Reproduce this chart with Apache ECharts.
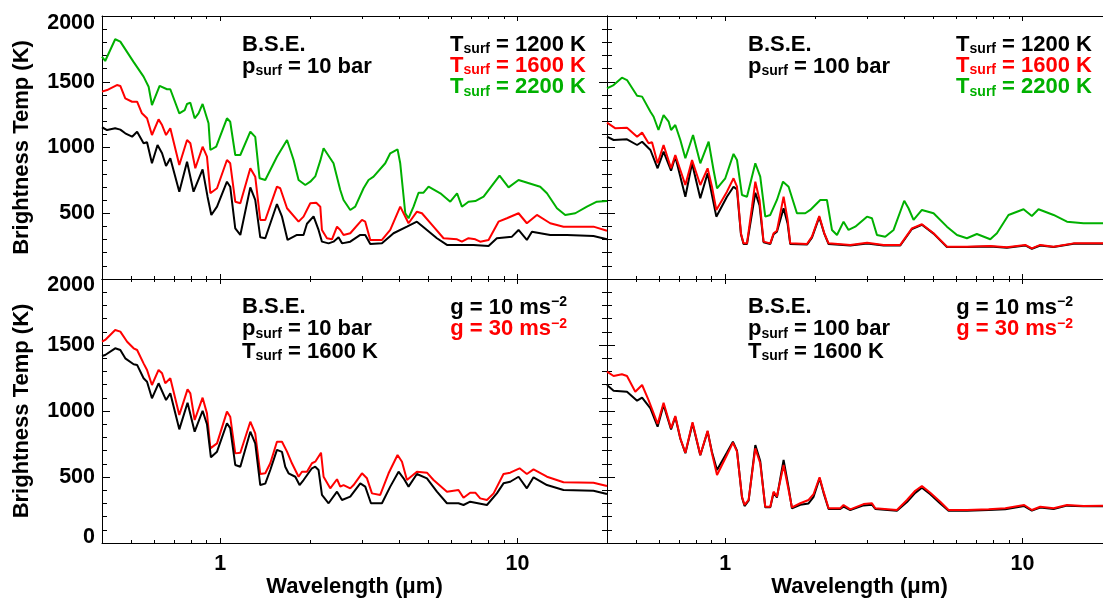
<!DOCTYPE html>
<html>
<head>
<meta charset="utf-8">
<title>Brightness temperature spectra</title>
<script src="https://cdn.jsdelivr.net/npm/echarts@6/dist/echarts.min.js"></script>
<style>
  html, body { margin: 0; padding: 0; background: #fff; }
  #chart { width: 1103px; height: 603px; }
</style>
</head>
<body>
<div id="chart"></div>
<script>
// wavelength (um), brightness temperature (K)
// top left: B.S.E., p_surf = 10 bar
const p10T1200 = [[0.40,1154],[0.416,1133],[0.443,1146],[0.461,1136],[0.479,1108],[0.505,1082],[0.525,1120],[0.552,1032],[0.567,1040],[0.589,880],[0.615,1019],[0.637,956],[0.657,859],[0.679,918],[0.728,664],[0.773,892],[0.813,664],[0.872,834],[0.906,626],[0.933,487],[0.975,550],[1.053,740],[1.08,702],[1.123,385],[1.168,335],[1.262,697],[1.311,601],[1.363,317],[1.417,310],[1.551,570],[1.613,474],[1.684,297],[1.811,335],[1.906,335],[1.957,420],[2.06,476],[2.141,373],[2.198,284],[2.314,271],[2.404,284],[2.5,317],[2.567,271],[2.737,284],[2.958,335],[3.074,335],[3.196,266],[3.499,271],[3.827,348],[4.246,398],[4.587,436],[4.957,373],[5.356,310],[5.788,259],[6.42,259],[7.11,259],[7.99,251],[8.52,310],[9.58,322],[10.08,373],[10.75,297],[11.18,360],[12.88,335],[14.66,335],[18.01,327],[20,302]];
const p10T1600 = [[0.40,1425],[0.416,1437],[0.449,1475],[0.461,1468],[0.479,1374],[0.505,1348],[0.525,1348],[0.545,1260],[0.567,1222],[0.589,1095],[0.62,1214],[0.637,1171],[0.657,1095],[0.679,1146],[0.728,867],[0.773,1057],[0.793,1032],[0.824,842],[0.872,1006],[0.902,930],[0.926,652],[0.975,690],[1.053,905],[1.08,880],[1.123,588],[1.168,576],[1.262,842],[1.311,778],[1.363,449],[1.417,449],[1.551,702],[1.591,690],[1.677,538],[1.834,436],[1.906,474],[2.008,576],[2.103,580],[2.17,550],[2.198,373],[2.285,310],[2.376,302],[2.47,398],[2.533,373],[2.598,335],[2.737,348],[2.997,449],[3.074,436],[3.196,297],[3.499,297],[3.731,373],[4.031,550],[4.299,424],[4.587,512],[4.768,500],[5.217,398],[5.638,310],[6.26,302],[6.5,284],[6.84,310],[7.21,302],[7.49,284],[7.99,297],[8.63,436],[9.21,462],[10.08,500],[10.75,424],[11.62,487],[12.88,424],[14.28,398],[18.01,398],[20,367]];
const p10T2200 = [[0.40,1690],[0.41,1658],[0.443,1823],[0.461,1805],[0.51,1653],[0.552,1539],[0.574,1462],[0.589,1323],[0.625,1468],[0.662,1443],[0.679,1443],[0.728,1260],[0.759,1285],[0.773,1331],[0.793,1341],[0.82,1222],[0.845,1260],[0.872,1331],[0.913,1184],[0.926,981],[0.969,1006],[1.053,1222],[1.08,1196],[1.123,943],[1.168,943],[1.262,1120],[1.311,1081],[1.356,766],[1.417,753],[1.551,930],[1.677,1057],[1.765,905],[1.834,753],[1.932,715],[2.008,740],[2.087,780],[2.17,900],[2.226,994],[2.404,880],[2.533,677],[2.598,601],[2.737,525],[2.845,550],[3.034,690],[3.154,753],[3.279,778],[3.589,880],[3.731,956],[3.948,986],[4.031,880],[4.192,500],[4.299,462],[4.469,550],[4.645,656],[4.829,656],[5.02,702],[5.5,652],[5.94,588],[6.26,652],[6.5,550],[6.84,588],[7.21,593],[7.69,626],[8.7,786],[9.33,697],[10.08,753],[11.92,702],[12.56,652],[13.57,538],[14.47,487],[15.64,500],[17.12,550],[18.49,588],[20,593]];

// top right: B.S.E., p_surf = 100 bar
const p100T1200 = [[0.40,1082],[0.421,1057],[0.467,1062],[0.505,1019],[0.525,1044],[0.56,981],[0.592,842],[0.62,968],[0.657,824],[0.679,930],[0.706,778],[0.734,626],[0.773,880],[0.824,614],[0.872,804],[0.933,474],[1.013,626],[1.066,702],[1.095,680],[1.129,340],[1.152,266],[1.183,266],[1.23,500],[1.262,656],[1.304,560],[1.345,280],[1.417,266],[1.454,340],[1.492,360],[1.571,538],[1.621,420],[1.654,266],[1.883,262],[1.957,315],[2.071,470],[2.153,345],[2.226,266],[2.633,255],[3.0,270],[3.408,255],[3.879,255],[4.246,380],[4.587,412],[5.02,345],[5.568,243],[6.5,243],[7.79,248],[8.86,238],[10.21,255],[10.75,230],[11.47,255],[12.72,243],[14.85,268],[20,268]];
const p100T1600 = [[0.40,1189],[0.427,1146],[0.467,1151],[0.505,1082],[0.525,1113],[0.552,1032],[0.567,1040],[0.592,880],[0.62,1019],[0.657,842],[0.679,943],[0.706,829],[0.734,715],[0.773,905],[0.824,715],[0.872,842],[0.902,702],[0.933,525],[1.013,664],[1.066,766],[1.095,702],[1.129,348],[1.152,271],[1.183,271],[1.23,550],[1.262,740],[1.304,601],[1.345,284],[1.417,271],[1.454,348],[1.492,367],[1.571,626],[1.621,449],[1.654,271],[1.883,266],[1.957,322],[2.071,479],[2.153,348],[2.226,271],[2.633,259],[3.0,276],[3.408,259],[3.879,259],[4.246,385],[4.587,416],[5.02,348],[5.568,246],[6.5,246],[7.79,251],[8.86,241],[10.21,259],[10.75,233],[11.47,259],[12.72,246],[14.85,271],[20,271]];
const p100T2200 = [[0.40,1450],[0.421,1475],[0.449,1531],[0.467,1513],[0.505,1394],[0.525,1387],[0.56,1272],[0.574,1234],[0.596,1133],[0.62,1247],[0.645,1196],[0.657,1133],[0.679,1171],[0.706,1057],[0.734,918],[0.779,1095],[0.824,880],[0.879,1044],[0.913,829],[0.938,690],[1.0,766],[1.066,951],[1.095,905],[1.138,639],[1.183,626],[1.262,880],[1.311,778],[1.363,474],[1.417,487],[1.492,601],[1.564,740],[1.633,702],[1.742,500],[1.858,500],[1.932,525],[2.087,601],[2.198,601],[2.285,373],[2.376,335],[2.5,436],[2.598,373],[2.737,398],[2.997,474],[3.115,462],[3.238,335],[3.452,322],[3.683,373],[4.0,595],[4.135,538],[4.299,449],[4.587,525],[5.02,500],[5.568,398],[6.02,335],[6.5,310],[7.02,342],[7.79,302],[8.2,348],[8.97,487],[10.08,530],[10.75,479],[11.32,530],[12.72,487],[14.11,436],[16.04,424],[20,424]];

// bottom left: p_surf = 10 bar, T_surf = 1600 K
const p10G10 = [[0.40,1417],[0.41,1424],[0.443,1475],[0.461,1462],[0.479,1399],[0.511,1354],[0.525,1349],[0.552,1248],[0.567,1222],[0.589,1096],[0.62,1210],[0.657,1083],[0.679,1134],[0.728,861],[0.776,1063],[0.82,843],[0.872,1002],[0.902,900],[0.93,649],[0.975,692],[1.053,907],[1.08,870],[1.123,591],[1.168,578],[1.262,843],[1.311,755],[1.363,439],[1.417,450],[1.473,553],[1.551,705],[1.613,690],[1.654,578],[1.697,528],[1.788,502],[1.848,439],[1.906,477],[2.034,566],[2.087,578],[2.141,553],[2.198,364],[2.314,301],[2.47,389],[2.567,326],[2.737,351],[2.958,452],[3.074,427],[3.213,301],[3.499,301],[3.731,427],[3.979,540],[4.136,490],[4.299,427],[4.587,523],[4.957,490],[5.356,389],[5.788,301],[6.33,301],[6.58,288],[6.93,313],[7.89,288],[8.52,376],[8.97,452],[9.45,464],[10.08,502],[10.75,414],[11.32,498],[12.56,439],[14.28,402],[18.01,396],[20,371]];
const p10G30 = [[0.40,1525],[0.41,1538],[0.443,1614],[0.461,1601],[0.486,1525],[0.511,1475],[0.525,1462],[0.552,1361],[0.567,1311],[0.589,1197],[0.62,1311],[0.637,1286],[0.653,1210],[0.679,1248],[0.728,970],[0.776,1164],[0.793,1134],[0.82,932],[0.872,1101],[0.902,982],[0.926,717],[0.975,755],[1.053,995],[1.08,957],[1.123,679],[1.168,684],[1.262,919],[1.311,831],[1.363,523],[1.417,528],[1.473,604],[1.551,767],[1.613,767],[1.677,692],[1.742,604],[1.834,502],[1.883,540],[1.957,540],[2.034,604],[2.087,616],[2.182,684],[2.226,502],[2.344,414],[2.47,483],[2.533,427],[2.598,439],[2.737,414],[2.808,439],[2.997,528],[3.115,490],[3.238,376],[3.452,364],[3.683,528],[3.948,667],[4.086,616],[4.246,477],[4.587,540],[4.957,533],[5.217,477],[5.788,389],[6.33,402],[6.58,343],[6.93,381],[7.21,381],[7.49,338],[7.89,326],[8.31,376],[8.97,523],[9.45,533],[10.16,566],[10.75,523],[11.32,558],[12.56,502],[14.28,460],[18.01,457],[20,432]];

// bottom right: p_surf = 100 bar, T_surf = 1600 K
const p100G10 = [[0.40,1197],[0.421,1154],[0.467,1146],[0.505,1078],[0.525,1101],[0.56,1020],[0.592,881],[0.62,1045],[0.657,860],[0.679,955],[0.706,790],[0.734,680],[0.776,905],[0.824,665],[0.872,845],[0.902,690],[0.938,553],[1.013,685],[1.061,767],[1.095,700],[1.138,345],[1.161,280],[1.198,320],[1.262,742],[1.311,620],[1.363,270],[1.417,270],[1.454,380],[1.492,345],[1.571,629],[1.633,420],[1.676,263],[1.788,290],[1.906,300],[1.982,350],[2.076,490],[2.141,380],[2.226,258],[2.437,258],[2.5,275],[2.633,250],[2.919,285],[3.115,290],[3.196,258],[3.78,245],[4.086,310],[4.356,380],[4.587,418],[4.893,370],[5.287,300],[5.638,245],[6.5,245],[7.69,250],[8.75,255],[10.13,280],[10.75,245],[11.47,268],[12.72,258],[14.11,283],[16.04,278],[18.49,278],[20,278]];
const p100G30 = [[0.40,1298],[0.421,1265],[0.449,1278],[0.467,1265],[0.498,1146],[0.525,1197],[0.552,1083],[0.592,902],[0.62,1063],[0.657,869],[0.679,962],[0.706,793],[0.734,684],[0.776,914],[0.824,667],[0.872,851],[0.902,679],[0.938,515],[1.013,667],[1.061,760],[1.095,692],[1.138,351],[1.161,288],[1.198,326],[1.262,717],[1.311,604],[1.363,275],[1.417,275],[1.454,389],[1.492,351],[1.571,591],[1.633,402],[1.676,270],[1.788,301],[1.906,326],[1.982,371],[2.076,498],[2.141,389],[2.226,263],[2.437,263],[2.5,288],[2.633,255],[2.919,295],[3.115,301],[3.196,263],[3.78,250],[4.086,326],[4.356,396],[4.587,432],[4.893,381],[5.287,313],[5.638,250],[6.5,250],[7.69,255],[8.75,263],[10.13,288],[10.75,250],[11.47,275],[12.72,263],[14.11,288],[16.04,280],[18.49,283],[20,283]];

// axis ticks
const xMajor = [1, 10];
const xMinor = [0.5, 0.6, 0.7, 0.8, 0.9, 2, 3, 4, 5, 6, 7, 8, 9, 20];

const FONT = '"Liberation Sans", Arial, Helvetica, sans-serif';
const BLACK = '#000000', RED = '#ff0000', GREEN = '#00b000';
const axisLineStyle = {color: '#000', width: 1};

const grids = [
  {left: 102, top: 16, width: 505, height: 263},
  {left: 607, top: 16, width: 505, height: 263},
  {left: 102, top: 279, width: 505, height: 264},
  {left: 607, top: 279, width: 505, height: 264}
].map(g => Object.assign(g, {containLabel: false, outerBoundsMode: 'none'}));

function xAxesFor(g, bottomRow) {
  const common = {gridIndex: g, type: 'log', logBase: 10, min: 0.4, max: 20,
    splitLine: {show: false}, minorSplitLine: {show: false}};
  const axes = [];
  ['bottom', 'top'].forEach(pos => {
    const labelled = bottomRow && pos === 'bottom';
    axes.push(Object.assign({}, common, {
      position: pos,
      axisLine: {show: true, onZero: false, lineStyle: axisLineStyle},
      axisTick: {show: true, inside: true, length: 5, customValues: xMajor, lineStyle: axisLineStyle},
      axisLabel: {show: labelled, customValues: xMajor, margin: 10, color: '#000',
        fontSize: 21.5, fontWeight: 'bold', fontFamily: FONT},
      name: labelled ? 'Wavelength (\u03bcm)' : '',
      nameLocation: 'middle', nameGap: 33,
      nameTextStyle: {color: '#000', fontSize: 22, fontWeight: 'bold', fontFamily: FONT}
    }));
    axes.push(Object.assign({}, common, {
      position: pos,
      axisLine: {show: false, onZero: false},
      axisTick: {show: true, inside: true, length: 3, customValues: xMinor, lineStyle: axisLineStyle},
      axisLabel: {show: false}
    }));
  });
  return axes;
}

function yAxesFor(g, leftCol, topRow) {
  const common = {gridIndex: g, type: 'value', min: 0, max: 2000, interval: 500,
    splitLine: {show: false},
    axisLine: {show: true, onZero: false, lineStyle: axisLineStyle},
    axisTick: {show: true, inside: true, length: 8, lineStyle: axisLineStyle},
    minorTick: {show: true, splitNumber: 5, length: 5, lineStyle: axisLineStyle}};
  const tickFont = {fontSize: 21.5, fontWeight: 'bold', fontFamily: FONT, color: '#000'};
  return [
    Object.assign({}, common, {
      position: 'left',
      axisLabel: Object.assign({show: leftCol, margin: 7,
        formatter: v => {
          if (v === 2000) return '{hi|2000}';
          if (v === 0) return topRow ? '' : '{lo|0}';
          return String(v);
        },
        rich: {
          hi: Object.assign({padding: [topRow ? 14 : 12, 0, 0, 0]}, tickFont),
          lo: Object.assign({padding: [0, 0, 12, 0]}, tickFont)
        }}, tickFont),
      name: leftCol ? 'Brightness Temp (K)' : '',
      nameLocation: 'middle', nameGap: 69, nameRotate: 90,
      nameTextStyle: {color: '#000', fontSize: 22, fontWeight: 'bold', fontFamily: FONT}
    }),
    Object.assign({}, common, {position: 'right', axisLabel: {show: false}})
  ];
}

function line(g, data, color) {
  return {type: 'line', xAxisIndex: g * 4, yAxisIndex: g * 2, data: data,
    symbol: 'none', showSymbol: false, clip: true, z: 3,
    lineStyle: {color: color, width: 2}, itemStyle: {color: color}};
}

function rich(c) {
  return {
    m: {fontSize: 22, fontWeight: 'bold', fontFamily: FONT, fill: c, lineHeight: 24},
    s: {fontSize: 14, fontWeight: 'bold', fontFamily: FONT, fill: c, lineHeight: 12, verticalAlign: 'bottom'},
    u: {fontSize: 14, fontWeight: 'bold', fontFamily: FONT, fill: c, lineHeight: 14, verticalAlign: 'top'}
  };
}
function note(x, y, text, color, align) {
  return {type: 'text', x: x, y: y, silent: true, z: 100,
    style: {text: text, fill: color, fontSize: 22, fontWeight: 'bold', fontFamily: FONT,
      align: align, verticalAlign: 'middle', rich: rich(color)}};
}

const notes = [
  note(242, 45, '{m|B.S.E.}', BLACK, 'left'),
  note(242, 66.5, '{m|p}{s|surf}{m| = 10 bar}', BLACK, 'left'),
  note(586, 44.5, '{m|T}{s|surf}{m| = 1200 K}', BLACK, 'right'),
  note(586, 65.5, '{m|T}{s|surf}{m| = 1600 K}', RED, 'right'),
  note(586, 87, '{m|T}{s|surf}{m| = 2200 K}', GREEN, 'right'),

  note(748, 45, '{m|B.S.E.}', BLACK, 'left'),
  note(748, 66.5, '{m|p}{s|surf}{m| = 100 bar}', BLACK, 'left'),
  note(1092, 44.5, '{m|T}{s|surf}{m| = 1200 K}', BLACK, 'right'),
  note(1092, 65.5, '{m|T}{s|surf}{m| = 1600 K}', RED, 'right'),
  note(1092, 87, '{m|T}{s|surf}{m| = 2200 K}', GREEN, 'right'),

  note(242, 307, '{m|B.S.E.}', BLACK, 'left'),
  note(242, 329, '{m|p}{s|surf}{m| = 10 bar}', BLACK, 'left'),
  note(242, 351.5, '{m|T}{s|surf}{m| = 1600 K}', BLACK, 'left'),
  note(567, 307.5, '{m|g = 10 ms}{u|\u22122}', BLACK, 'right'),
  note(567, 329, '{m|g = 30 ms}{u|\u22122}', RED, 'right'),

  note(748, 307, '{m|B.S.E.}', BLACK, 'left'),
  note(748, 329, '{m|p}{s|surf}{m| = 100 bar}', BLACK, 'left'),
  note(748, 351.5, '{m|T}{s|surf}{m| = 1600 K}', BLACK, 'left'),
  note(1073, 307.5, '{m|g = 10 ms}{u|\u22122}', BLACK, 'right'),
  note(1073, 329, '{m|g = 30 ms}{u|\u22122}', RED, 'right')
];

const chart = echarts.init(document.getElementById('chart'), null, {renderer: 'canvas'});
chart.setOption({
  animation: false,
  backgroundColor: '#ffffff',
  grid: grids,
  xAxis: [].concat(xAxesFor(0, false), xAxesFor(1, false), xAxesFor(2, true), xAxesFor(3, true)),
  yAxis: [].concat(yAxesFor(0, true, true), yAxesFor(1, false, true), yAxesFor(2, true, false), yAxesFor(3, false, false)),
  series: [
    line(0, p10T2200, GREEN), line(0, p10T1600, RED), line(0, p10T1200, BLACK),
    line(1, p100T2200, GREEN), line(1, p100T1200, BLACK), line(1, p100T1600, RED),
    line(2, p10G30, RED), line(2, p10G10, BLACK),
    line(3, p100G10, BLACK), line(3, p100G30, RED)
  ],
  graphic: notes
});
</script>
</body>
</html>
